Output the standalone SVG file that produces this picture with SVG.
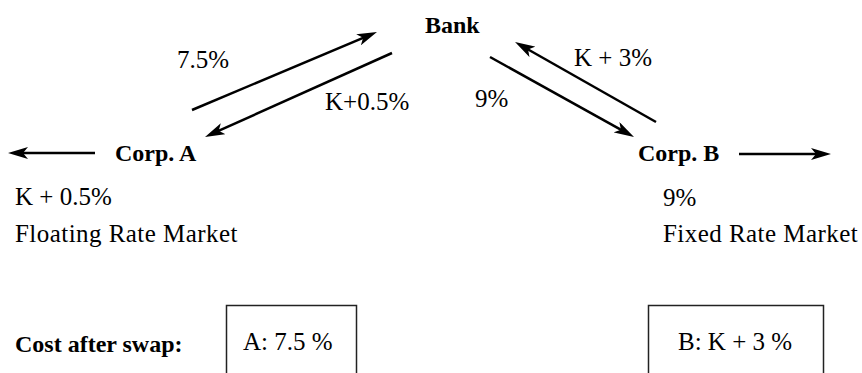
<svg xmlns="http://www.w3.org/2000/svg" width="862" height="373" viewBox="0 0 862 373">
<style>
  text { font-family: "Liberation Serif", "Times New Roman", serif; fill: #000; }
  .r { font-size: 25px; }
  .m { letter-spacing: 0.45px; }
  .b { font-size: 24px; font-weight: bold; }
  .conn line { stroke: #000; stroke-width: 2.5; fill: none; marker-end: url(#ah); }
  .box { fill: #fff; stroke: #222; stroke-width: 1.5; }
</style>
<defs>
  <marker id="ah" viewBox="0 0 20 12" refX="12" refY="6" markerWidth="20" markerHeight="12" markerUnits="userSpaceOnUse" orient="auto">
    <path d="M0,0 L20,6 L0,12 L5,6 z" fill="#000"/>
  </marker>
</defs>
<rect width="862" height="373" fill="#fff"/>

<g id="connectors" class="conn">
  <line x1="192" y1="110" x2="369.6" y2="35.1"/>
  <line x1="392" y1="53" x2="212.3" y2="133.7"/>
  <line x1="490" y1="57" x2="627" y2="133.1"/>
  <line x1="656" y1="122" x2="522" y2="46"/>
  <line x1="95" y1="153" x2="16" y2="153"/>
  <line x1="739" y1="154" x2="823" y2="154"/>
</g>

<g id="labels">
  <text class="r" x="177" y="68">7.5%</text>
  <text class="r" x="325" y="110">K+0.5%</text>
  <text class="r" x="475" y="107">9%</text>
  <text class="r" x="574" y="66">K + 3%</text>
</g>

<g id="bank">
  <text class="b" x="425" y="33">Bank</text>
</g>

<g id="corpA">
  <text class="b" x="115" y="161">Corp. A</text>
</g>

<g id="corpB">
  <text class="b" x="638" y="161">Corp. B</text>
</g>

<g id="floating-market">
  <text class="r" x="15" y="205">K + 0.5%</text>
  <text class="r m" x="15" y="242">Floating Rate Market</text>
</g>

<g id="fixed-market">
  <text class="r" x="663" y="206">9%</text>
  <text class="r m" x="663" y="242">Fixed Rate Market</text>
</g>

<g id="cost-label">
  <text class="b" x="15" y="352">Cost after swap:</text>
</g>

<g id="boxA">
  <rect class="box" x="226.5" y="305.5" width="130" height="80"/>
  <text class="r" x="243" y="350">A: 7.5 %</text>
</g>

<g id="boxB">
  <rect class="box" x="648.5" y="305.5" width="175" height="80"/>
  <text class="r" x="678" y="350">B: K + 3 %</text>
</g>
</svg>
